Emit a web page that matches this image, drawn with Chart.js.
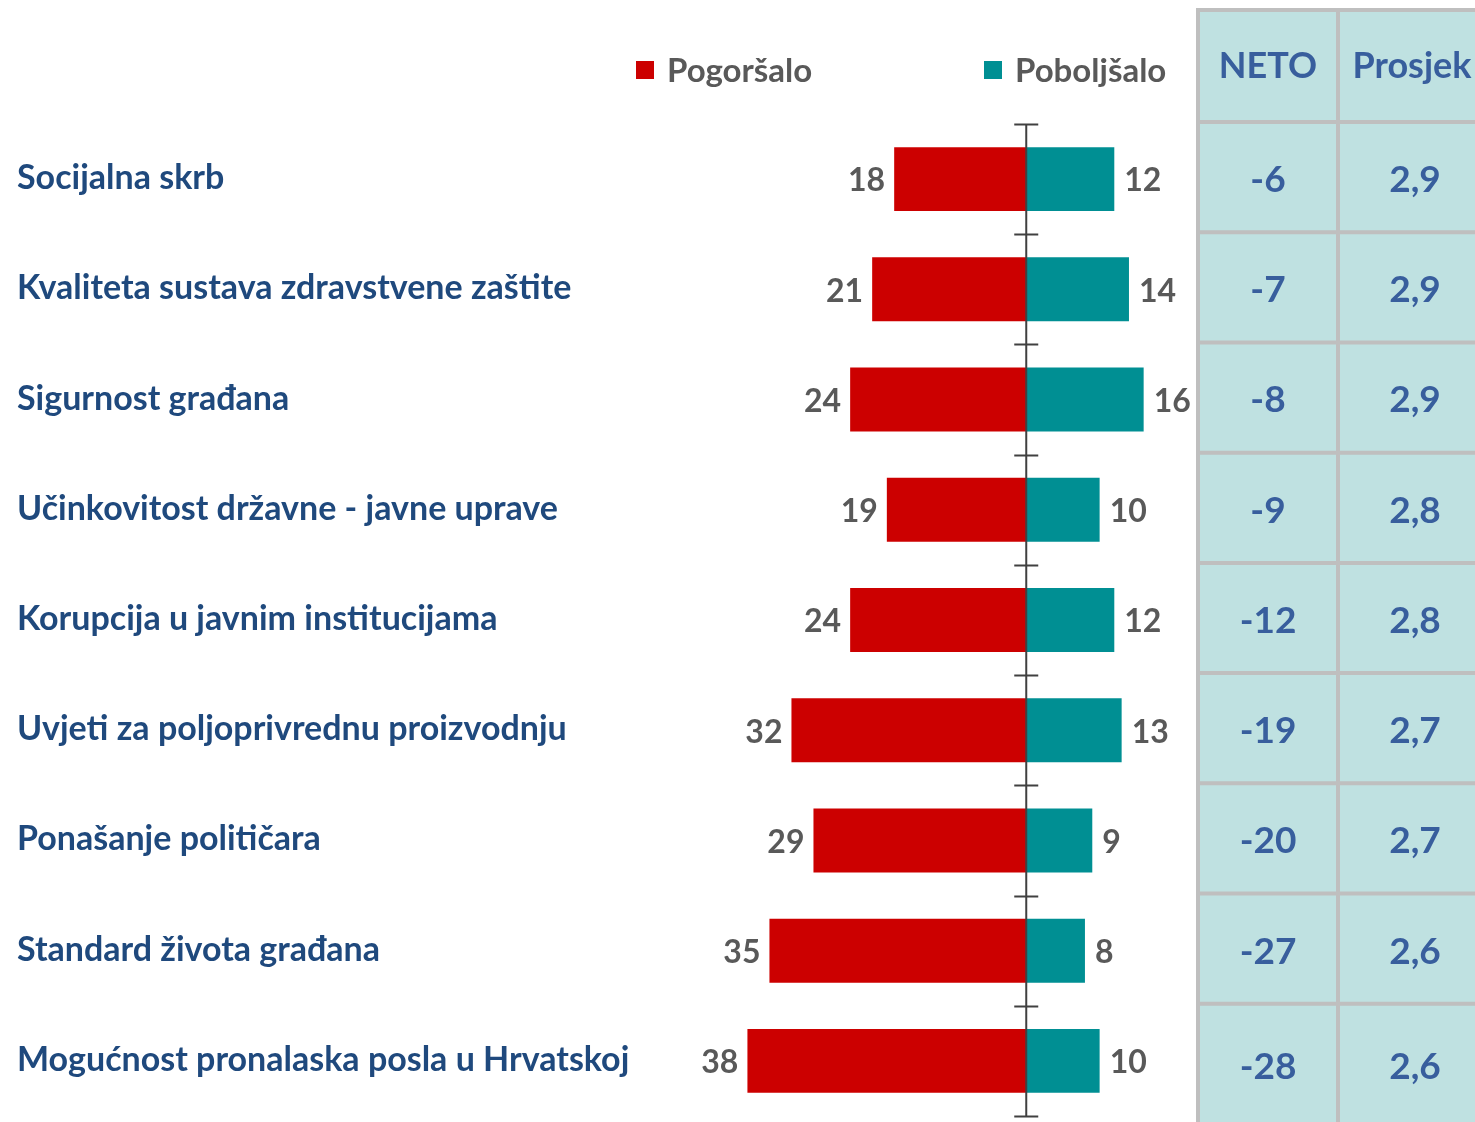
<!DOCTYPE html>
<html>
<head>
<meta charset="utf-8">
<script src="https://cdn.jsdelivr.net/npm/chart.js@4.4.1/dist/chart.umd.min.js"></script>
<style>
  html, body { margin: 0; padding: 0; background: #fff; }
  #wrap { width: 1475px; height: 1122px; position: relative; }
</style>
</head>
<body>
<div id="wrap"><canvas id="chart"></canvas></div>
<script>
// --- podaci ---
const categories = [
    'Socijalna skrb',
    'Kvaliteta sustava zdravstvene zaštite',
    'Sigurnost građana',
    'Učinkovitost državne - javne uprave',
    'Korupcija u javnim institucijama',
    'Uvjeti za poljoprivrednu proizvodnju',
    'Ponašanje političara',
    'Standard života građana',
    'Mogućnost pronalaska posla u Hrvatskoj'
];
const seriesNames = ['Pogoršalo', 'Poboljšalo'];
const pogorsalo = [18, 21, 24, 19, 24, 32, 29, 35, 38];
const poboljsalo = [12, 14, 16, 10, 12, 13, 9, 8, 10];
const tableHeaders = ['NETO', 'Prosjek'];
const neto = [-6, -7, -8, -9, -12, -19, -20, -27, -28];
const prosjek = [2.9, 2.9, 2.9, 2.8, 2.8, 2.7, 2.7, 2.6, 2.6];

const RED = '#CC0000';
const TEAL = '#008F93';
const FONT = 'Lato, "Open Sans", sans-serif';

// --- nazivi, os, oznake vrijednosti, legenda i tablica ---
const extras = {
    id: 'extras',
    afterDatasetsDraw(chart) {
        const ctx = chart.ctx;
        const area = chart.chartArea;
        const xs = chart.scales.x;
        const ys = chart.scales.y;
        const step = ys.getPixelForValue(1) - ys.getPixelForValue(0);
        const x0 = xs.getPixelForValue(0);
        ctx.save();

        // nazivi kategorija
        ctx.font = 'bold 34px ' + FONT;
        ctx.fillStyle = '#1F497D';
        ctx.textAlign = 'left';
        ctx.textBaseline = 'middle';
        chart.data.labels.forEach((lab, i) => {
            ctx.fillText(lab, 17, ys.getPixelForValue(i) - 1);
        });

        // središnja os s crticama
        ctx.strokeStyle = '#404040';
        ctx.lineWidth = 2;
        ctx.beginPath();
        ctx.moveTo(x0, area.top);
        ctx.lineTo(x0, area.bottom);
        for (let i = 0; i <= categories.length; i++) {
            const y = Math.round(ys.getPixelForValue(i) - step / 2) + 0.5;
            ctx.moveTo(x0 - 12, y);
            ctx.lineTo(x0 + 12, y);
        }
        ctx.stroke();

        // vrijednosti uz stupce
        ctx.font = 'bold 32px ' + FONT;
        ctx.fillStyle = '#595959';
        chart.data.datasets.forEach((ds, di) => {
            chart.getDatasetMeta(di).data.forEach((bar, j) => {
                const v = Math.abs(ds.data[j]);
                if (ds.data[j] < 0) {
                    ctx.textAlign = 'right';
                    ctx.fillText(v, bar.x - 9, bar.y + 2);
                } else {
                    ctx.textAlign = 'left';
                    ctx.fillText(v, bar.x + 10, bar.y + 2);
                }
            });
        });

        // legenda
        ctx.font = 'bold 33px ' + FONT;
        ctx.textAlign = 'left';
        const legendPos = [636, 984];
        chart.data.datasets.forEach((ds, di) => {
            ctx.fillStyle = ds.backgroundColor;
            ctx.fillRect(legendPos[di], 61, 18, 18);
            ctx.fillStyle = '#595959';
            ctx.fillText(ds.label, legendPos[di] + 31, 71);
        });

        // tablica NETO / Prosjek
        const colX = [1198, 1338, 1494];
        const rowY = [10];
        for (let i = 0; i <= categories.length; i++) {
            rowY.push(ys.getPixelForValue(i) - step / 2 - 2);
        }
        const lastEdge = rowY[rowY.length - 1];
        const bottomEdge = chart.height + 10;
        ctx.fillStyle = '#BFE1E1';
        ctx.fillRect(colX[0], rowY[0], colX[2] - colX[0], bottomEdge - rowY[0]);
        ctx.strokeStyle = '#BFBFBF';
        ctx.lineWidth = 4;
        ctx.beginPath();
        colX.forEach(x => { ctx.moveTo(x, rowY[0]); ctx.lineTo(x, bottomEdge); });
        rowY.slice(0, -1).forEach(y => { ctx.moveTo(colX[0] - 2, y); ctx.lineTo(colX[2], y); });
        ctx.stroke();

        ctx.fillStyle = '#385E9D';
        ctx.textAlign = 'center';
        ctx.font = 'bold 36px ' + FONT;
        tableHeaders.forEach((h, c) => {
            ctx.fillText(h, (colX[c] + colX[c + 1]) / 2 - (c === 1 ? 4 : 0), 66);
        });
        ctx.font = 'bold 37px ' + FONT;
        for (let i = 0; i < categories.length; i++) {
            const top = rowY[i + 1];
            const bottom = i < categories.length - 1 ? rowY[i + 2] : lastEdge + 10;
            const yc = (top + bottom) / 2 + 3;
            ctx.fillText(String(neto[i]), (colX[0] + colX[1]) / 2, yc);
            ctx.fillText(prosjek[i].toFixed(1).replace('.', ','), (colX[1] + colX[2]) / 2 - 1, yc);
        }
        ctx.restore();
    }
};

new Chart(document.getElementById('chart'), {
    type: 'bar',
    data: {
        labels: categories,
        datasets: [
            { label: seriesNames[0], data: pogorsalo.map(v => -v), backgroundColor: RED },
            { label: seriesNames[1], data: poboljsalo, backgroundColor: TEAL }
        ]
    },
    options: {
        indexAxis: 'y',
        responsive: true,
        maintainAspectRatio: false,
        animation: false,
        layout: { padding: { left: 586, right: 302, top: 124, bottom: 6 } },
        datasets: { bar: { barPercentage: 0.58, categoryPercentage: 1 } },
        plugins: { legend: { display: false }, tooltip: { enabled: false } },
        scales: {
            x: { stacked: true, min: -60, max: 20, display: false },
            y: { stacked: true, display: false }
        }
    },
    plugins: [extras]
});
</script>
</body>
</html>
